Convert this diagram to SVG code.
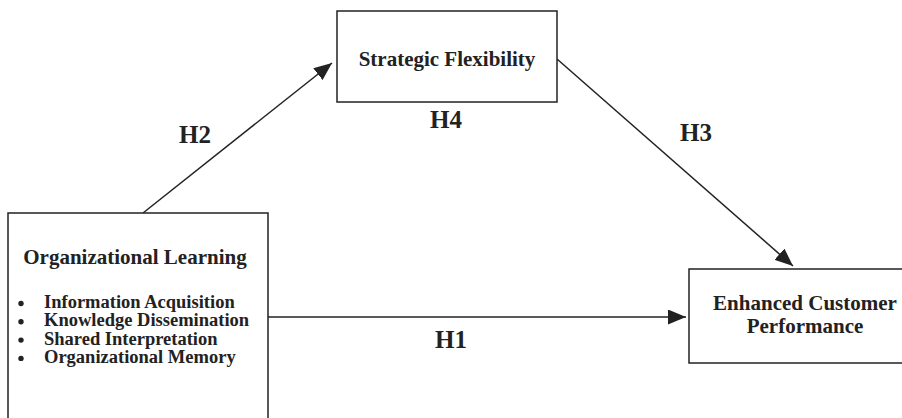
<svg xmlns="http://www.w3.org/2000/svg" width="902" height="418" viewBox="0 0 902 418">
<style>
.box{fill:#fff;stroke:#222;stroke-width:1.5}
.lbl{font-family:"Liberation Serif","Times New Roman",serif;font-weight:bold;fill:#222}
.t{font-size:21px}
.b{font-size:18.5px}
.h{font-size:25px}
.conn{stroke:#222;stroke-width:1.5;fill:none}
</style>
<defs>
<marker id="arr" markerUnits="userSpaceOnUse" markerWidth="19" markerHeight="15" refX="18" refY="7.5" orient="auto">
<path d="M0,0 L18,7.5 L0,15 Z" fill="#222"/>
</marker>
</defs>
<rect width="902" height="418" fill="#fff"/>
<g id="connectors">
<line class="conn" x1="143" y1="213" x2="332" y2="63" marker-end="url(#arr)"/>
<line class="conn" x1="557" y1="59" x2="793" y2="266" marker-end="url(#arr)"/>
<line class="conn" x1="268" y1="317" x2="686" y2="317" marker-end="url(#arr)"/>
<text class="lbl h" x="195" y="143" text-anchor="middle">H2</text>
<text class="lbl h" x="446" y="128" text-anchor="middle">H4</text>
<text class="lbl h" x="696" y="141" text-anchor="middle">H3</text>
<text class="lbl h" x="451" y="348" text-anchor="middle">H1</text>
</g>
<g id="strategic-flexibility">
<rect class="box" x="337" y="11" width="220" height="91"/>
<text class="lbl t" x="447" y="66" text-anchor="middle">Strategic Flexibility</text>
</g>
<g id="organizational-learning">
<rect class="box" x="8" y="213" width="260" height="220"/>
<text class="lbl t" x="135" y="264" text-anchor="middle">Organizational Learning</text>
<g fill="#222">
<circle cx="21" cy="303.5" r="2.7"/>
<circle cx="21" cy="321.8" r="2.7"/>
<circle cx="21" cy="340.1" r="2.7"/>
<circle cx="21" cy="358.4" r="2.7"/>
</g>
<text class="lbl b" x="44" y="308">Information Acquisition</text>
<text class="lbl b" x="44" y="326.3">Knowledge Dissemination</text>
<text class="lbl b" x="44" y="344.6">Shared Interpretation</text>
<text class="lbl b" x="44" y="362.9">Organizational Memory</text>
</g>
<g id="enhanced-customer-performance">
<rect class="box" x="689" y="269" width="240" height="94"/>
<text class="lbl t" x="805" y="310" text-anchor="middle">Enhanced Customer</text>
<text class="lbl t" x="805" y="333" text-anchor="middle">Performance</text>
</g>
</svg>
